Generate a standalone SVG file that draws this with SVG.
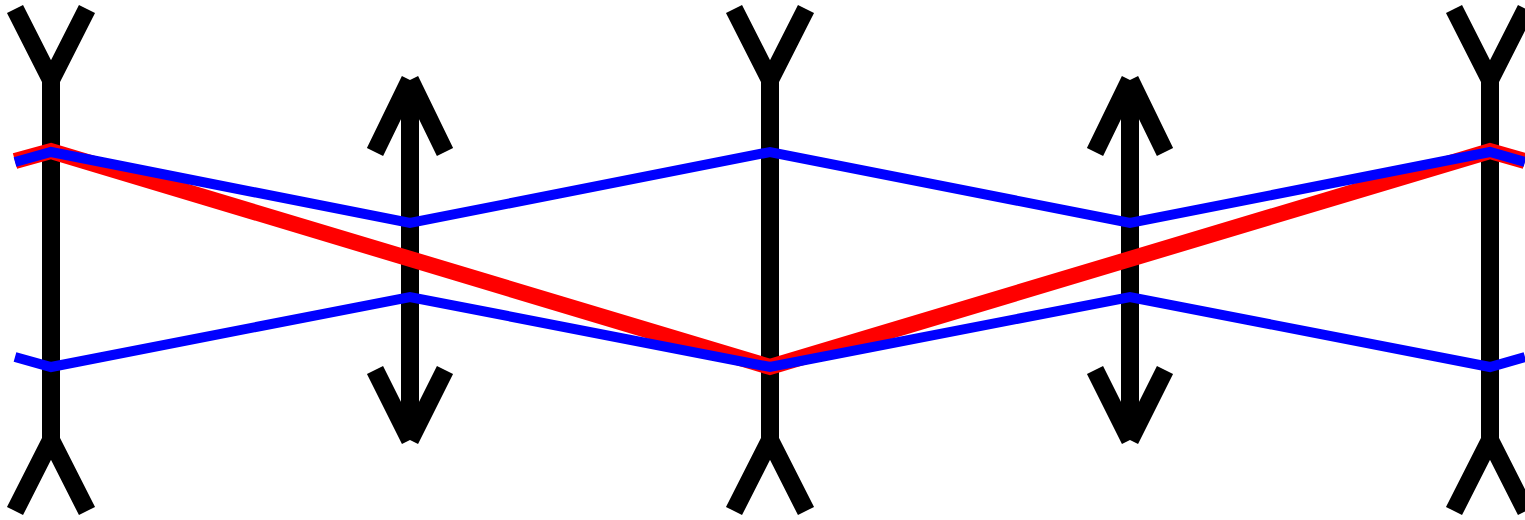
<svg xmlns="http://www.w3.org/2000/svg" width="1525" height="520" viewBox="0 0 1525 520">
<style>
.post{stroke:#000;stroke-width:18;fill:none;stroke-linecap:butt}
.arr{stroke:#000;stroke-width:18;fill:none;stroke-linecap:butt}
.red{stroke:#f00;stroke-width:16;fill:none;stroke-linejoin:miter}
.blue{stroke:#00f;stroke-width:10;fill:none;stroke-linejoin:miter}
</style>
<rect width="1525" height="520" fill="#fff"/>
<g id="post1">
<path class="post" d="M51,80 V440 M15,9 L51,80 M87,9 L51,80 M15,511 L51,440 M87,511 L51,440"/>
</g>
<g id="post2">
<path class="post" d="M770,80 V440 M734,9 L770,80 M806,9 L770,80 M734,511 L770,440 M806,511 L770,440"/>
</g>
<g id="post3">
<path class="post" d="M1490,80 V440 M1454,9 L1490,80 M1526,9 L1490,80 M1454,511 L1490,440 M1526,511 L1490,440"/>
</g>
<g id="arrow1">
<path class="arr" d="M410,84 V436 M375,152 L410,80 M445,152 L410,80 M375,370 L410,440 M445,370 L410,440"/>
</g>
<g id="arrow2">
<path class="arr" d="M1130,84 V436 M1095,152 L1130,80 M1165,152 L1130,80 M1095,370 L1130,440 M1165,370 L1130,440"/>
</g>
<g id="connectors">
<polyline class="red" points="15,161 51,151 770,367 1490,151 1525,161"/>
<polyline class="blue" points="15,162 51,152 410,223 770,152 1130,223 1490,152 1525,162"/>
<polyline class="blue" points="15,357 51,367 410,297 770,367 1130,297 1490,367 1525,357"/>
</g>
</svg>
